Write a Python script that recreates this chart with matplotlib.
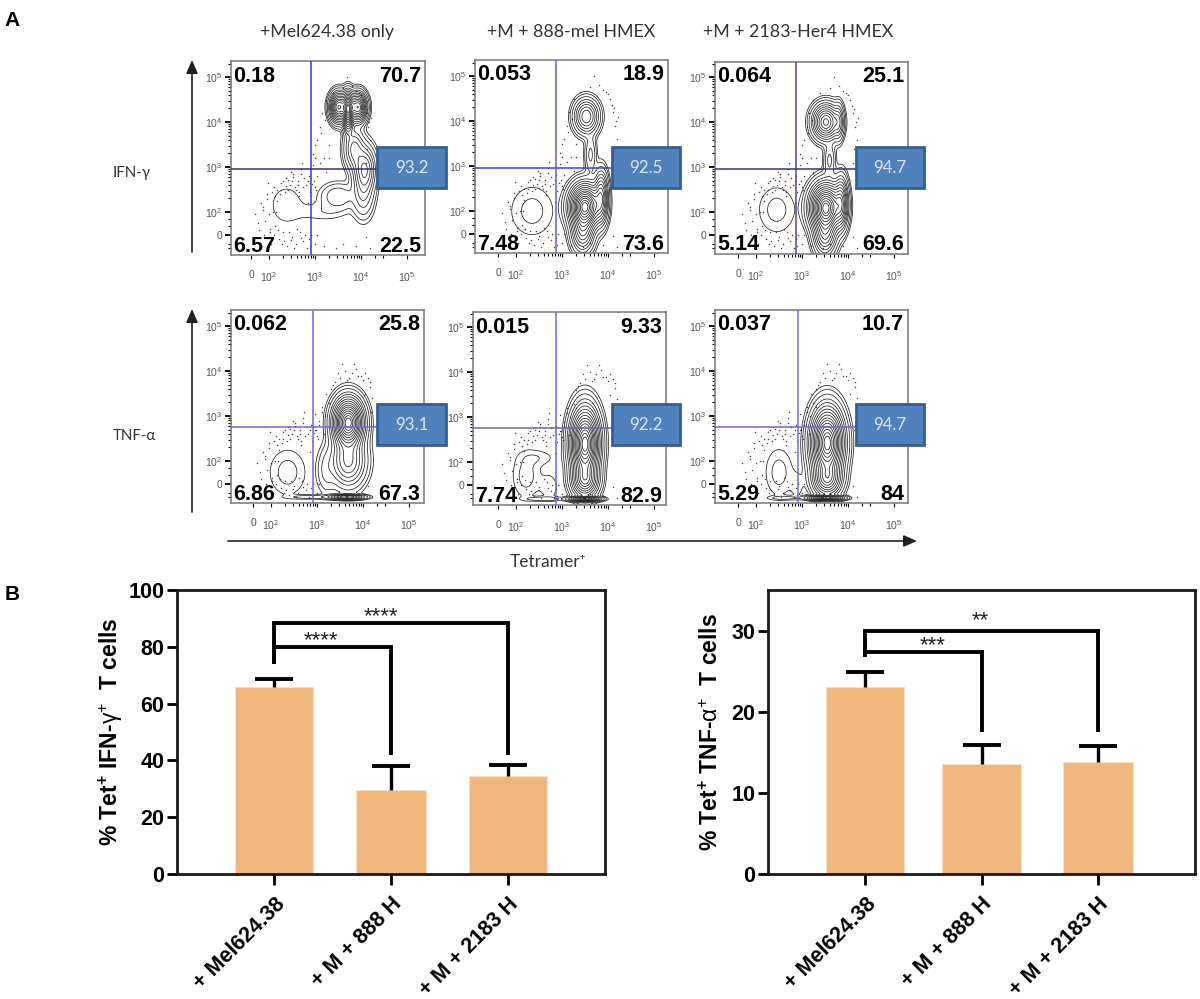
import numpy as np
import matplotlib
matplotlib.use('Agg')
import matplotlib.pyplot as plt
from matplotlib.patches import Rectangle

plt.rcParams['font.family'] = ['Liberation Sans', 'DejaVu Sans']
plt.rcParams['mathtext.fontset'] = 'custom'
plt.rcParams['mathtext.rm'] = 'Liberation Sans'
plt.rcParams['mathtext.bf'] = 'Liberation Sans:bold'
plt.rcParams['mathtext.it'] = 'Liberation Sans:italic'

W, H = 1200, 999

# ---- flow panels ----
col_titles = ['+Mel624.38 only', '+M + 888-mel HMEX', '+M + 2183-Her4 HMEX']
row_names = ['IFN-γ', 'TNF-α']

# quadrant percentages, order: UL, UR, LL, LR
quad_ifn = [['0.18', '70.7', '6.57', '22.5'],
            ['0.053', '18.9', '7.48', '73.6'],
            ['0.064', '25.1', '5.14', '69.6']]
quad_tnf = [['0.062', '25.8', '6.86', '67.3'],
            ['0.015', '9.33', '7.74', '82.9'],
            ['0.037', '10.7', '5.29', '84']]
box_ifn = ['93.2', '92.5', '94.7']
box_tnf = ['93.1', '92.2', '94.7']

# cell populations in log10 units: x, y, sd x, sd y, weight
pops_ifn = [
    [(3.50, 4.32, .09, .17, .8), (3.95, 4.32, .09, .17, .8), (3.72, 4.22, .06, .22, 1.0), (3.72, 4.35, .16, .16, .6),
     (3.85, 3.40, .12, .25, .22), (4.08, 2.95, .13, .28, .38), (4.05, 2.40, .13, .30, .12),
     (3.50, 2.35, .22, .17, .07), (3.20, 2.00, .35, .14, .016), (2.38, 2.16, .28, .34, .016)],
    [(3.53, 4.10, .14, .20, .3), (3.62, 3.25, .07, .25, .06), (3.50, 2.10, .17, .25, 1.0),
     (3.85, 2.30, .08, .30, .35), (3.45, 1.55, .13, .25, .3), (2.35, 2.00, .32, .38, .016)],
    [(3.52, 4.00, .15, .20, .5), (3.80, 4.00, .06, .22, .12), (3.60, 3.15, .07, .22, .06), (3.52, 2.10, .175, .27, 1.0),
     (3.85, 2.20, .08, .30, .35), (3.50, 1.50, .13, .25, .3), (2.45, 2.05, .27, .35, .016)],
]
pops_tnf = [
    [(3.68, 2.85, .17, .28, 1.0), (3.68, 2.00, .20, .30, .25), (3.20, 1.80, .12, .30, .03),
     (3.65, 1.20, .20, .03, .3), (2.90, 1.20, .30, .03, .02), (2.36, 1.75, .27, .35, .016)],
    [(3.50, 2.40, .16, .41, 1.0), (3.50, 1.60, .15, .20, .4), (3.50, 1.18, .17, .03, .5),
     (2.60, 1.18, .25, .03, .02), (2.22, 1.70, .20, .34, .016), (2.73, 1.45, .14, .22, .010), (2.50, 2.10, .25, .12, .009)],
    [(3.55, 2.40, .18, .40, 1.0), (3.55, 1.60, .16, .20, .4), (3.52, 1.18, .19, .03, .5),
     (2.60, 1.18, .22, .03, .015), (2.50, 1.75, .20, .36, .016), (2.90, 1.45, .10, .22, .008)],
]
contour_levels = [.006, .012, .025, .05, .08, .12, .17, .23, .30, .38, .46, .55, .65, .75, .85, .93]

# scattered events (log10 units)
dots_low_x = [1.75, 1.82, 1.9, 1.95, 2.0, 2.05, 2.1, 2.12, 2.18, 2.22, 2.25, 2.3, 2.36, 2.4, 2.45, 2.5,
              2.52, 2.58, 2.62, 2.68, 2.7, 2.75, 2.8, 2.82, 2.88, 2.92, 2.95, 3.0, 3.02, 3.05, 2.15, 2.35,
              2.55, 2.65, 2.85, 1.98, 2.28, 2.48, 2.72, 2.9, 3.1, 3.2, 3.3, 3.45, 3.6, 3.9, 4.1, 4.2,
              1.7, 1.78, 1.86, 1.92, 1.96, 2.02, 2.08, 2.14, 2.2, 2.27, 2.33, 2.42, 2.47, 2.56, 2.6, 2.66,
              2.74, 2.78, 2.84, 2.9, 2.97, 2.03, 2.11, 2.24, 2.38, 2.5, 2.64, 2.76, 2.94, 1.88, 2.06, 2.17,
              2.44, 2.53, 2.7, 2.86, 2.99, 3.04, 2.31, 2.41, 2.59, 2.69]
dots_low_y = [1.75, 2.2, 1.5, 2.4, 1.95, 1.3, 2.55, 1.7, 2.25, 1.4, 2.65, 1.55, 2.75, 1.25, 2.6, 1.45,
              2.85, 1.3, 2.7, 1.55, 2.95, 1.35, 2.6, 1.2, 2.8, 1.5, 3.05, 1.3, 2.5, 2.8, 2.0, 2.45,
              1.2, 2.35, 2.2, 2.65, 1.3, 2.9, 3.1, 1.25, 3.1, 1.25, 3.2, 1.2, 1.3, 1.25, 1.45, 1.2,
              1.95, 1.6, 2.05, 1.8, 2.3, 1.55, 2.0, 2.35, 1.6, 2.5, 1.35, 2.72, 1.38, 2.55, 1.62, 2.45,
              2.55, 1.48, 2.68, 2.45, 2.7, 1.62, 1.48, 2.4, 2.58, 2.68, 2.6, 2.75, 2.62, 2.12, 2.45, 2.48,
              1.55, 2.78, 2.85, 1.4, 2.55, 1.5, 2.7, 2.5, 2.5, 1.42]
dots_up_ifn_x = [2.95, 3.05, 3.1, 3.15, 3.2, 3.25, 3.3, 4.05, 4.1, 4.15, 4.2, 4.1, 4.12, 3.4, 3.6, 3.8,
                 3.7, 3.9, 4.0, 4.18, 3.0, 4.22, 3.25, 3.0, 3.12, 3.22, 3.95, 4.14, 4.08]
dots_up_ifn_y = [3.3, 3.6, 3.9, 4.2, 3.2, 4.5, 3.5, 4.5, 4.2, 3.9, 3.6, 3.1, 4.3, 4.65, 4.75, 4.8,
                 5.0, 4.7, 4.6, 4.0, 3.2, 4.1, 2.9, 3.5, 3.75, 4.05, 4.65, 3.4, 4.35]
dots_up_tnf_x = [3.05, 3.1, 3.15, 3.2, 3.3, 3.4, 3.5, 3.6, 3.7, 3.85, 4.0, 4.1, 4.15, 4.2, 4.18, 4.12,
                 3.25, 3.55, 3.75, 3.95, 4.05, 2.95, 3.65, 3.35, 3.45, 3.8, 3.9, 4.05, 4.15, 3.18]
dots_up_tnf_y = [2.9, 3.2, 2.6, 3.5, 3.6, 3.75, 3.85, 4.0, 3.85, 4.05, 3.8, 3.85, 3.65, 3.4, 3.1, 2.7,
                 3.3, 4.15, 3.95, 3.9, 3.5, 2.7, 3.8, 3.7, 3.95, 4.15, 3.9, 3.95, 3.75, 3.0]

# ---- bar charts ----
bar_names = ['+ Mel624.38', '+ M + 888 H', '+ M + 2183 H']
ifn_vals = [66, 29.5, 34.5]
ifn_err = [2.6, 8.5, 4.0]
ifn_widths = [.67, .60, .67]
tnf_vals = [23, 13.6, 13.8]
tnf_err = [1.9, 2.3, 2.0]
tnf_widths = [.67, .675, .60]

fig = plt.figure(figsize=(W / 100, H / 100), dpi=100, facecolor='white')


def px_axes(x0, y0, x1, y1, **kw):
    return fig.add_axes([x0 / W, 1 - y1 / H, (x1 - x0) / W, (y1 - y0) / H], **kw)


def flow_panel(rect, x3, y3, gate, pops, quad, gate_col, hcol, dots_x, dots_y):
    x0, y0, x1, y1 = rect
    ax = px_axes(x0, y0, x1, y1)
    ax.set_xlim(3 + (x0 - x3) / 46, 3 + (x1 - x3) / 46)
    ax.set_ylim(3 - (y1 - y3) / 45, 3 - (y0 - y3) / 45)

    gx = np.linspace(*ax.get_xlim(), 500)
    gy = np.linspace(*ax.get_ylim(), 500)
    xx, yy = np.meshgrid(gx, gy)
    z = np.zeros_like(xx)
    for cx, cy, sx, sy, w in pops:
        z += w * np.exp(-.5 * (((xx - cx) / sx) ** 2 + ((yy - cy) / sy) ** 2))
    z = z / z.max()
    ax.scatter(dots_x, dots_y, s=1.1, color='#444444', linewidths=0, zorder=1)
    ax.contour(xx, yy, z, levels=contour_levels, colors='#222222', linewidths=.55, zorder=2)

    ax.axvline(3 + (gate[0] - x3) / 46, color=gate_col, lw=1.1, zorder=3)
    ax.axhline(3 - (gate[1] - y3) / 45, color=hcol, lw=1.1, zorder=3)

    for s in ax.spines.values():
        s.set_color('#777777')
        s.set_linewidth(1.1)
    minor = [d + np.log10(k) for d in (2, 3, 4) for k in range(2, 10)]
    ax.set_xticks([1.61, 2, 3, 4, 5])
    ax.set_xticklabels(['0', '$\\mathrm{10^{2}}$', '$\\mathrm{10^{3}}$', '$\\mathrm{10^{4}}$', '$\\mathrm{10^{5}}$'])
    ax.set_yticks([1.49, 2, 3, 4, 5])
    ax.set_yticklabels(['0', '$\\mathrm{10^{2}}$', '$\\mathrm{10^{3}}$', '$\\mathrm{10^{4}}$', '$\\mathrm{10^{5}}$'])
    ax.set_xticks([m for m in minor if m < 4.6], minor=True)
    ax.set_yticks(minor + [1.2, 1.3, 1.7, 1.85, 5.3], minor=True)
    ax.tick_params(axis='x', which='major', length=3, width=.8, color='black', labelsize=7.5,
                   labelcolor='#555555', pad=8)
    ax.tick_params(axis='y', which='major', length=4, width=1.3, color='black', labelsize=7.5,
                   labelcolor='#555555', pad=2)
    ax.tick_params(axis='x', which='minor', length=2, width=.8, color='black')
    ax.tick_params(axis='y', which='minor', length=2, width=.8, color='black')

    tkw = dict(fontsize=15.5, fontweight='bold', color='black', transform=ax.transAxes,
               va='center', zorder=5)
    pad_x = 2.5 / (x1 - x0)
    ax.text(pad_x, 1 - 15 / (y1 - y0), quad[0], ha='left', **tkw)
    ax.text(1 - 4 / (x1 - x0), 1 - 15 / (y1 - y0), quad[1], ha='right', **tkw)
    ax.text(pad_x, 9 / (y1 - y0), quad[2], ha='left', **tkw)
    ax.text(1 - 4 / (x1 - x0), 9 / (y1 - y0), quad[3], ha='right', **tkw)
    return ax


rects = [[(231, 61, 425, 255), (475, 60, 668, 253), (715, 62, 908, 254)],
         [(231, 310, 424, 503), (473, 312, 666, 505), (715, 310, 908, 503)]]
ticks_xy = [[(315, 167), (562, 166), (802, 167)], [(317, 416), (562, 417), (802, 416)]]
gates = [[(311, 169), (556, 168), (796, 169)], [(313, 427), (556, 428), (798, 427)]]
h_cols = [['#2f2f8f', '#4444c4', '#35357f'], ['#6a6adc', '#6666b8', '#6a6ad8']]
v_cols = [['#3a3ac0', '#6060d0', '#4848a0'], ['#6a6adc', '#6a6adc', '#7070d0']]

for c in range(3):
    flow_panel(rects[0][c], *ticks_xy[0][c], gates[0][c], pops_ifn[c], quad_ifn[c], v_cols[0][c], h_cols[0][c],
               dots_low_x + dots_up_ifn_x, dots_low_y + dots_up_ifn_y)
    flow_panel(rects[1][c], *ticks_xy[1][c], gates[1][c], pops_tnf[c], quad_tnf[c], v_cols[1][c], h_cols[1][c],
               dots_low_x + dots_up_tnf_x, dots_low_y + dots_up_tnf_y)


def bar_panel(rect, vals, errs, widths, ymax, yticks, ylabel, brackets, ylabel_x):
    ax = px_axes(*rect)
    pos = np.arange(len(vals))
    ax.bar(pos, vals, width=widths, color='#F1B67B', edgecolor='#F7E0C4', linewidth=.8, zorder=2)
    _, caps, _ = ax.errorbar(pos, vals, yerr=[np.zeros(3), errs], fmt='none', ecolor='black', elinewidth=2.4,
                             capsize=14, capthick=2.8, zorder=3)
    caps[0].set_visible(False)
    ax.set_xlim(-.835, 2.835)
    ax.set_ylim(0, ymax)
    ax.set_yticks(yticks)
    ax.set_xticks(pos)
    ax.set_xticklabels(bar_names, rotation=45, ha='right', va='top', rotation_mode='anchor',
                       fontsize=15.5, fontweight='bold')
    ax.tick_params(axis='y', length=7, width=2, labelsize=15.5, pad=2)
    ax.tick_params(axis='x', length=8, width=2, pad=6)
    for lab in ax.get_yticklabels():
        lab.set_fontweight('bold')
    for s in ax.spines.values():
        s.set_linewidth(2)
        s.set_color('#1a1a1a')
    for (x_end, y_start, y_top, y_drop, stars, star_x, star_y) in brackets:
        ax.plot([0, 0, x_end, x_end], [y_start, y_top, y_top, y_drop], color='black', lw=2.8,
                solid_joinstyle='miter', solid_capstyle='butt', zorder=4)
        ax.text(star_x, star_y, stars, ha='center', va='center', fontsize=16, color='#222222')
    fig.text(ylabel_x / W, 1 - (rect[1] + rect[3]) / 2 / H, ylabel, rotation=90, ha='center', va='center',
             fontsize=16.5, fontweight='bold')
    return ax


bar_panel((177, 590, 605, 874), ifn_vals, ifn_err, ifn_widths, 100, [0, 20, 40, 60, 80, 100],
          '% Tet$\\mathbf{^{+}}$ IFN-$\\mathrm{\\gamma^{+}}$  T cells',
          [(2, 74, 88.5, 42, '****', .91, 90.5), (1, 74, 80, 42, '****', .40, 82)], 111)
bar_panel((768, 590, 1195, 874), tnf_vals, tnf_err, tnf_widths, 35, [0, 10, 20, 30],
          '% Tet$\\mathbf{^{+}}$ TNF-$\\mathrm{\\alpha^{+}}$  T cells',
          [(2, 26.7, 30, 17.5, '**', .99, 31.2), (1, 26.7, 27.3, 17.5, '***', .58, 28.1)], 711)

# ---- overlay in pixel coordinates ----
ov = fig.add_axes([0, 0, 1, 1], zorder=10)
ov.set_xlim(0, W)
ov.set_ylim(H, 0)
ov.axis('off')
ov.patch.set_alpha(0)

boxes = [[(377, 147, 446, 188), (612, 147, 680, 188), (856, 147, 924, 188)],
         [(377, 404, 446, 445), (612, 404, 680, 445), (856, 404, 924, 445)]]
for r, labels in enumerate([box_ifn, box_tnf]):
    for c, lab in enumerate(labels):
        bx0, by0, bx1, by1 = boxes[r][c]
        ov.add_patch(Rectangle((bx0, by0), bx1 - bx0, by1 - by0, facecolor='#4F81BD', edgecolor='#35608F', lw=2))
        ov.text((bx0 + bx1) / 2, (by0 + by1) / 2 + .5, lab, ha='center', va='center', color='#DCE7F3', fontsize=12.2,
                family=['Lato', 'DejaVu Sans'])

for name, cx in zip(col_titles, [327, 571, 798]):
    ov.text(cx, 32, name, ha='center', va='center', fontsize=12.8, color='#333333', family=['Lato', 'DejaVu Sans'])
for name, cy in zip(row_names, [173, 436]):
    ov.text(113, cy, name, ha='left', va='center', fontsize=10.8, color='#333333', family=['Lato', 'DejaVu Sans'])

ov.text(12, 20, 'A', ha='center', va='center', fontsize=15, fontweight='bold')
ov.text(12, 595, 'B', ha='center', va='center', fontsize=15, fontweight='bold')
ov.text(548, 562, 'Tetramer⁺', ha='center', va='center', fontsize=12.5, color='#333333',
        family=['Lato', 'DejaVu Sans'])

akw = dict(arrowstyle='-|>,head_width=.35,head_length=.8', color='#222222', lw=1.2, shrinkA=0, shrinkB=0)
ov.annotate('', xy=(192, 60), xytext=(192, 252), arrowprops=akw)
ov.annotate('', xy=(192, 309), xytext=(192, 512), arrowprops=akw)
ov.annotate('', xy=(917, 541), xytext=(228, 541), arrowprops=akw)

fig.savefig('out.png', dpi=100)
